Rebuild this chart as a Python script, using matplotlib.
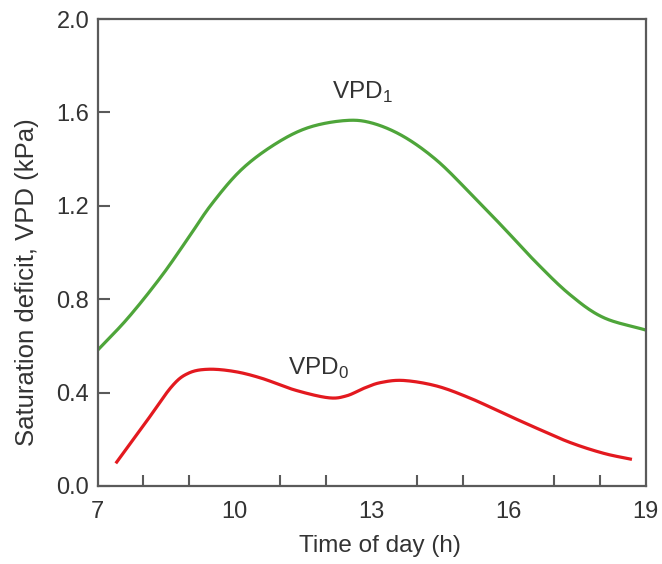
import numpy as np
import matplotlib.pyplot as plt
from matplotlib.ticker import MultipleLocator, FixedLocator

plt.rcParams['font.family'] = ['Liberation Sans', 'DejaVu Sans']
plt.rcParams['mathtext.fontset'] = 'custom'
plt.rcParams['mathtext.rm'] = 'Liberation Sans'

# VPD1 (green)
hours_1 = [6.97, 7.66, 8.39, 8.98, 9.49, 10.14, 10.87, 11.60, 12.41, 13.0,
           13.69, 14.42, 15.15, 15.88, 16.61, 17.34, 18.07, 19.0]
vpd_1 = [0.575, 0.718, 0.896, 1.060, 1.205, 1.353, 1.462, 1.534, 1.565, 1.555,
         1.498, 1.396, 1.256, 1.108, 0.956, 0.820, 0.722, 0.668]

# VPD0 (red)
hours_0 = [7.40, 8.04, 8.62, 8.99, 9.43, 10.01, 10.60, 11.32, 12.05, 12.45,
           12.85, 13.20, 13.70, 14.43, 15.16, 15.89, 16.62, 17.35, 18.08, 18.70]
vpd_0 = [0.097, 0.268, 0.425, 0.483, 0.500, 0.490, 0.461, 0.411, 0.378, 0.386,
         0.420, 0.443, 0.452, 0.428, 0.376, 0.311, 0.247, 0.186, 0.140, 0.114]

x_ticks = [7, 10, 13, 16, 19]
y_ticks = [0.0, 0.4, 0.8, 1.2, 1.6, 2.0]

text_col = '#333333'
spine_col = '#5a5a5a'


def smooth(xs, ys, n=20):
    # Catmull-Rom, only to draw a smooth line through the read points
    x = np.asarray(xs, float)
    y = np.asarray(ys, float)
    px = np.concatenate([[2 * x[0] - x[1]], x, [2 * x[-1] - x[-2]]])
    py = np.concatenate([[2 * y[0] - y[1]], y, [2 * y[-1] - y[-2]]])
    t = np.linspace(0, 1, n, endpoint=False)[:, None]
    out_x, out_y = [], []
    for i in range(1, len(px) - 2):
        for p, out in ((px, out_x), (py, out_y)):
            p0, p1, p2, p3 = p[i - 1], p[i], p[i + 1], p[i + 2]
            seg = 0.5 * (2 * p1 + (-p0 + p2) * t + (2 * p0 - 5 * p1 + 4 * p2 - p3) * t ** 2
                         + (-p0 + 3 * p1 - 3 * p2 + p3) * t ** 3)
            out.extend(seg.ravel())
    out_x.append(x[-1])
    out_y.append(y[-1])
    return out_x, out_y


fig = plt.figure(figsize=(6.62, 5.64), dpi=100)
ax = fig.add_axes([0.1473, 0.1383, 0.828, 0.828])

ax.plot(*smooth(hours_1, vpd_1), color='#4ea53a', lw=2.3, solid_capstyle='butt')
ax.plot(*smooth(hours_0, vpd_0), color='#e3191f', lw=2.3, solid_capstyle='butt')

ax.set_xlim(7, 19)
ax.set_ylim(0, 2.0)

ax.xaxis.set_major_locator(FixedLocator(x_ticks))
ax.xaxis.set_minor_locator(MultipleLocator(1))
ax.yaxis.set_major_locator(FixedLocator(y_ticks))
ax.set_yticklabels([f'{v:.1f}' for v in y_ticks])

ax.tick_params(axis='both', which='both', direction='in', color=spine_col,
               width=1.5, labelcolor=text_col, labelsize=17)
ax.tick_params(axis='x', which='major', length=0, pad=11)
ax.tick_params(axis='x', which='minor', length=8)
ax.tick_params(axis='y', which='major', length=8.5, pad=6)

for s in ax.spines.values():
    s.set_color(spine_col)
    s.set_linewidth(1.6)

ax.set_xlabel('Time of day (h)', fontsize=17.5, color=text_col, va='center')
ax.xaxis.set_label_coords(0.515, -0.128)
ax.set_ylabel('Saturation deficit, VPD (kPa)', fontsize=18.5, color=text_col, va='center')
ax.yaxis.set_label_coords(-0.128, 0.437)

ax.text(12.8, 1.685, r'VPD$_\mathrm{1}$', fontsize=17.5, color=text_col,
        ha='center', va='center')
ax.text(11.83, 0.505, r'VPD$_\mathrm{0}$', fontsize=17.5, color=text_col,
        ha='center', va='center')

fig.savefig('out.png', dpi=100)
